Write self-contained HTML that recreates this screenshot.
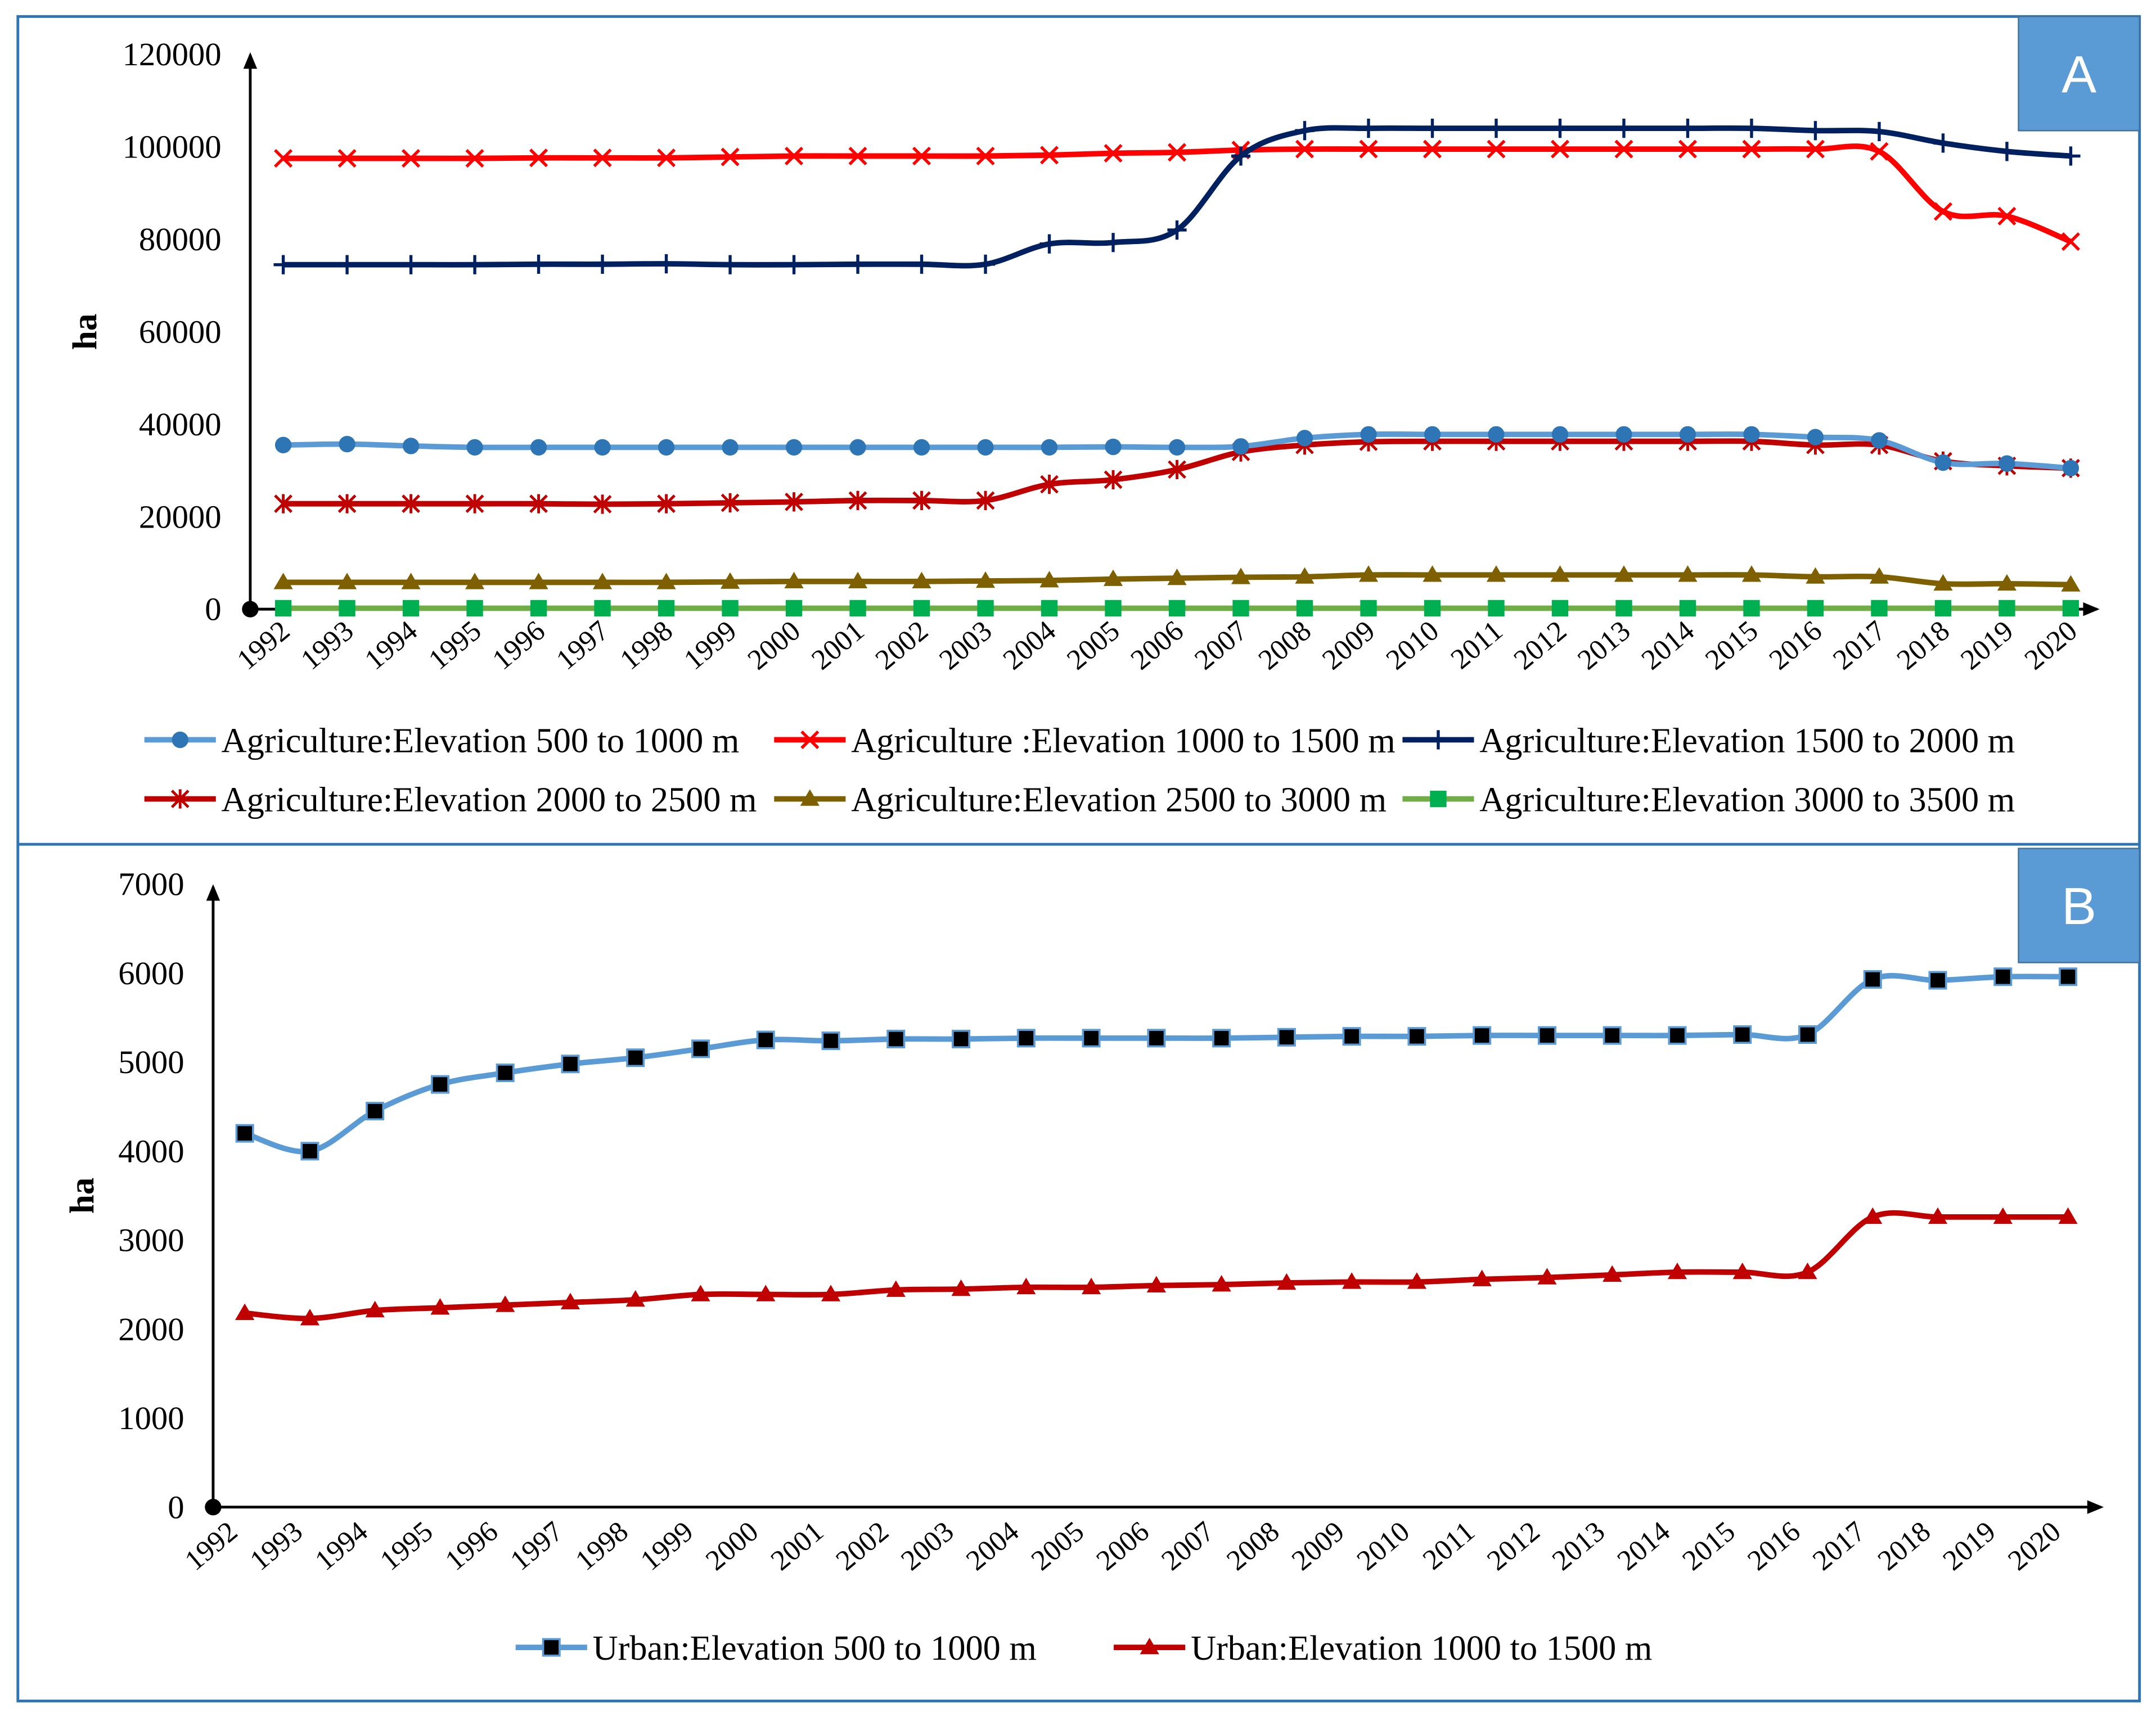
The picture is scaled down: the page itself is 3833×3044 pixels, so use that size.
<!DOCTYPE html>
<html><head><meta charset="utf-8">
<style>
html,body{margin:0;padding:0;background:#fff;}
svg{display:block;}
text{font-family:"Liberation Serif",serif;fill:#000;}
</style></head>
<body>
<svg id="chart" width="3833" height="3044" viewBox="0 0 1568 1245" preserveAspectRatio="none" xmlns="http://www.w3.org/2000/svg">
<rect x="0" y="0" width="1568" height="1245" fill="#fff"/>
<rect x="13" y="12" width="1543" height="1225" fill="none" stroke="#2e75b6" stroke-width="2"/>
<line x1="13" y1="614" x2="1556" y2="614" stroke="#2e75b6" stroke-width="2"/>
<g><rect x="1468" y="12" width="88" height="83" fill="#5b9bd5" stroke="#41719c"/><text x="1512" y="67" font-size="38" text-anchor="middle" style="fill:#fff;font-family:'Liberation Sans',sans-serif">A</text></g>
<g><rect x="1468" y="617" width="88" height="83" fill="#5b9bd5" stroke="#41719c"/><text x="1512" y="672" font-size="38" text-anchor="middle" style="fill:#fff;font-family:'Liberation Sans',sans-serif">B</text></g>
<g id="gA"></g>
<g id="gB"></g>
</svg>
<script>
const years = ["1992","1993","1994","1995","1996","1997","1998","1999","2000","2001","2002","2003","2004","2005","2006","2007","2008","2009","2010","2011","2012","2013","2014","2015","2016","2017","2018","2019","2020"];
const ticksA = [0,20000,40000,60000,80000,100000,120000];
const ticksB = [0,1000,2000,3000,4000,5000,6000,7000];
const agri500 = [35500,35700,35300,35000,35000,35000,35000,35000,35000,35000,35000,35000,35000,35100,35000,35200,37000,37800,37800,37800,37800,37800,37800,37800,37200,36500,31700,31500,30500];
const agri1000 = [97500,97500,97500,97500,97600,97600,97600,97800,98000,98000,98000,98000,98200,98600,98800,99300,99500,99500,99500,99500,99500,99500,99500,99500,99500,99000,86000,85000,79500];
const agri1500 = [74500,74500,74500,74500,74600,74600,74700,74500,74500,74600,74600,74600,79000,79300,82000,98000,103500,104000,104000,104000,104000,104000,104000,104000,103500,103300,100800,99000,98000];
const agri2000 = [22800,22800,22800,22800,22800,22700,22800,23000,23200,23500,23500,23500,27000,28000,30200,34000,35500,36200,36300,36300,36300,36300,36300,36300,35500,35500,32000,31000,30500];
const agri2500 = [5800,5800,5800,5800,5800,5800,5800,5900,6000,6000,6000,6100,6200,6500,6700,6900,7000,7400,7400,7400,7400,7400,7400,7400,7000,7000,5500,5500,5300];
const agri3000 = [200,200,200,200,200,200,200,200,200,200,200,200,200,200,200,200,200,200,200,200,200,200,200,200,200,200,200,200,200];
const urban500 = [4200,4000,4450,4750,4880,4980,5050,5150,5250,5240,5260,5260,5270,5270,5270,5270,5280,5290,5290,5300,5300,5300,5300,5310,5310,5930,5920,5960,5960];
const urban1000 = [2180,2120,2210,2240,2270,2300,2330,2390,2390,2390,2440,2450,2470,2470,2490,2500,2520,2530,2530,2560,2580,2610,2640,2640,2640,3260,3260,3260,3260];

const NS="http://www.w3.org/2000/svg";
function mk(tag,attrs,parent){const e=document.createElementNS(NS,tag);for(const k in attrs)e.setAttribute(k,attrs[k]);parent.appendChild(e);return e;}
function smooth(pts){let d=`M${pts[0][0]},${pts[0][1]}`;for(let i=0;i<pts.length-1;i++){const p0=pts[i-1]||pts[i],p1=pts[i],p2=pts[i+1],p3=pts[i+2]||p2;const t=1/6;d+=` C${p1[0]+(p2[0]-p0[0])*t},${p1[1]+(p2[1]-p0[1])*t} ${p2[0]-(p3[0]-p1[0])*t},${p2[1]-(p3[1]-p1[1])*t} ${p2[0]},${p2[1]}`;}return d;}
function marker(g,type,x,y,color){
  if(type==='circle')mk('circle',{cx:x,cy:y,r:6,fill:color},g);
  else if(type==='x'){mk('path',{d:`M${x-6},${y-6}L${x+6},${y+6}M${x-6},${y+6}L${x+6},${y-6}`,stroke:color,'stroke-width':2.2},g);}
  else if(type==='plus'){mk('path',{d:`M${x-7},${y}L${x+7},${y}M${x},${y-7}L${x},${y+7}`,stroke:color,'stroke-width':2.2},g);}
  else if(type==='star'){mk('path',{d:`M${x-6},${y-6}L${x+6},${y+6}M${x-6},${y+6}L${x+6},${y-6}M${x},${y-7}L${x},${y+7}`,stroke:color,'stroke-width':2},g);}
  else if(type==='tri')mk('path',{d:`M${x},${y-7}L${x+7},${y+5}L${x-7},${y+5}Z`,fill:color},g);
  else if(type==='sq')mk('rect',{x:x-6,y:y-6,width:12,height:12,fill:color},g);
  else if(type==='bsq')mk('rect',{x:x-6,y:y-6,width:12,height:12,fill:'#000',stroke:'#5b9bd5','stroke-width':1.5},g);
}
function panel(g,cfg){
  const {y0,y1,axX,axEnd,axYtop,max,ticks,series,xf}=cfg;
  const xs=i=>xf(i);
  const ys=v=>y0-(v/max)*(y0-y1);
  const ya=mk('line',{x1:axX,y1:y0,x2:axX,y2:axYtop,stroke:'#000','stroke-width':2},g);
  
  
  mk('path',{d:`M${axX-5},${axYtop+10}L${axX},${axYtop-2}L${axX+5},${axYtop+10}Z`,fill:'#000'},g);
  const xa=mk('line',{x1:axX,y1:y0,x2:axEnd,y2:y0,stroke:'#000','stroke-width':2},g);
  
  
  mk('path',{d:`M${axEnd-10},${y0-5}L${axEnd+2},${y0}L${axEnd-10},${y0+5}Z`,fill:'#000'},g);
  mk('circle',{cx:axX,cy:y0,r:6,fill:'#000'},g);
  ticks.forEach(t=>{const tx=mk('text',{x:axX-21,y:ys(t)+8,'font-size':24,'text-anchor':'end'},g);tx.textContent=t;
    
    });
  years.forEach((yr,i)=>{const x=xs(i);const lx=x+cfg.lblDx,ly=y0+cfg.lblDy;const tx=mk('text',{x:lx,y:ly,'font-size':21,'text-anchor':'end',transform:`rotate(-40 ${lx} ${ly})`},g);tx.textContent=yr;
    
    });
  const yt=mk('text',{x:cfg.yTitleX,y:(y0+y1)/2,'font-size':25,'font-weight':'bold','text-anchor':'middle',transform:`rotate(-90 ${cfg.yTitleX} ${(y0+y1)/2})`},g);yt.textContent='ha';
  
  
  series.forEach(s=>{
    const sg=mk('g',{},g);
    
    
    const pts=s.data.map((v,i)=>[xs(i),ys(v)]);
    mk('path',{d:smooth(pts),fill:'none',stroke:s.color,'stroke-width':s.w||4},sg);
    pts.forEach(p=>marker(sg,s.m,p[0],p[1],s.mc||s.color));
  });
}
function legend(g,items){
  items.forEach(it=>{
    const lg=mk('g',{},g);
    
    
    mk('line',{x1:it.x,y1:it.y,x2:it.x+52,y2:it.y,stroke:it.color,'stroke-width':4},lg);
    marker(lg,it.m,it.x+26,it.y,it.mc||it.color);
    const t=mk('text',{x:it.x+56,y:it.y+9,'font-size':25.5},lg);t.textContent=it.label;
  });
}
const gA=document.getElementById('gA');
panel(gA,{y0:443,y1:39.5,axX:182,axEnd:1525,axYtop:40,max:120000,ticks:ticksA,xf:i=>206+i*(1300/28),lblDx:6,lblDy:18,yTitleX:70,
 series:[
  {name:'series-agri-3000-3500',data:agri3000,color:'#70ad47',m:'sq',mc:'#00b050'},
  {name:'series-agri-2500-3000',data:agri2500,color:'#7f6000',m:'tri'},
  {name:'series-agri-2000-2500',data:agri2000,color:'#c00000',m:'star'},
  {name:'series-agri-500-1000',data:agri500,color:'#5b9bd5',m:'circle',mc:'#2e75b6'},
  {name:'series-agri-1000-1500',data:agri1000,color:'#ff0000',m:'x'},
  {name:'series-agri-1500-2000',data:agri1500,color:'#002060',m:'plus'}
 ]});
legend(gA,[
 {x:105,y:538,color:'#5b9bd5',mc:'#2e75b6',m:'circle',label:'Agriculture:Elevation 500 to 1000 m'},
 {x:563,y:538,color:'#ff0000',m:'x',label:'Agriculture :Elevation 1000 to 1500 m'},
 {x:1020,y:538,color:'#002060',m:'plus',label:'Agriculture:Elevation 1500 to 2000 m'},
 {x:105,y:581,color:'#c00000',m:'star',label:'Agriculture:Elevation 2000 to 2500 m'},
 {x:563,y:581,color:'#7f6000',m:'tri',label:'Agriculture:Elevation 2500 to 3000 m'},
 {x:1020,y:581,color:'#70ad47',mc:'#00b050',m:'sq',label:'Agriculture:Elevation 3000 to 3500 m'}
]);
const gB=document.getElementById('gB');
panel(gB,{y0:1096,y1:643,axX:155,axEnd:1528,axYtop:645,max:7000,ticks:ticksB,xf:i=>178+i*(1326/28),lblDx:-4,lblDy:20,yTitleX:68,
 series:[
  {name:'series-urban-1000-1500',data:urban1000,color:'#c00000',m:'tri'},
  {name:'series-urban-500-1000',data:urban500,color:'#5b9bd5',m:'bsq'}
 ]});
legend(gB,[
 {x:375,y:1198,color:'#5b9bd5',m:'bsq',label:'Urban:Elevation 500 to 1000 m'},
 {x:810,y:1198,color:'#c00000',m:'tri',label:'Urban:Elevation 1000 to 1500 m'}
]);
</script>
</body></html>
